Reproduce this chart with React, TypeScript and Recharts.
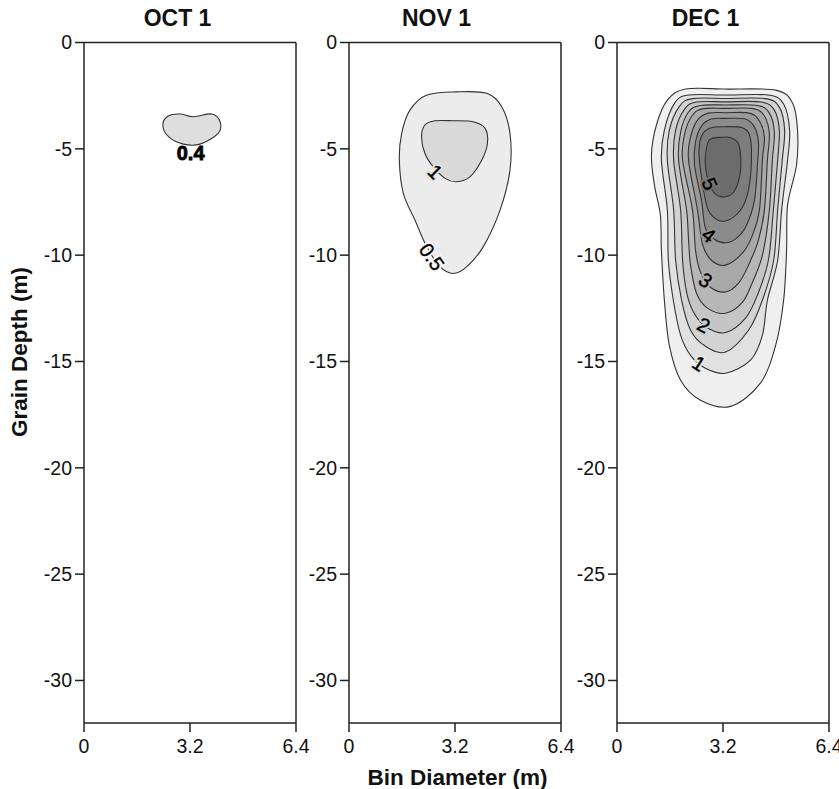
import React from 'react'
import { ScatterChart, Scatter, XAxis, YAxis } from 'recharts'

const FONT = 'Arial, "Liberation Sans", Helvetica, sans-serif'
const INK = '#222'

// axis ticks
const xTicks = [0, 3.2, 6.4]
const yTicks = [0, -5, -10, -15, -20, -25, -30]
const xDomain = [0, 6.4]
const yDomain = [-32, 0]

const panelTitles = ['OCT 1', 'NOV 1', 'DEC 1']

// OCT 1 — single 0.4 contour
const oct04 = [
  { x: 2.9, y: -3.36 }, { x: 3.3, y: -3.49 }, { x: 3.86, y: -3.36 }, { x: 4.11, y: -3.73 },
  { x: 4.05, y: -4.27 }, { x: 3.5, y: -4.78 }, { x: 3.0, y: -4.78 }, { x: 2.55, y: -4.43 },
  { x: 2.38, y: -3.88 }, { x: 2.54, y: -3.46 },
]
const octLabels = [{ x: 3.22, y: -5.2, text: '0.4', angle: 0 }]

// NOV 1 — 0.5 and 1 contours
const nov05 = [
  { x: 3.25, y: -2.32 }, { x: 4.16, y: -2.39 }, { x: 4.61, y: -3.02 }, { x: 4.86, y: -4.27 },
  { x: 4.86, y: -6.0 }, { x: 4.56, y: -7.88 }, { x: 4.05, y: -9.61 }, { x: 3.55, y: -10.55 },
  { x: 3.15, y: -10.86 }, { x: 2.75, y: -10.55 }, { x: 2.35, y: -9.61 }, { x: 1.99, y: -8.35 },
  { x: 1.64, y: -7.1 }, { x: 1.52, y: -5.53 }, { x: 1.59, y: -4.27 }, { x: 1.84, y: -3.18 },
  { x: 2.35, y: -2.47 },
]
const nov10 = [
  { x: 3.15, y: -3.68 }, { x: 3.75, y: -3.73 }, { x: 4.11, y: -4.04 }, { x: 4.18, y: -4.74 },
  { x: 4.01, y: -5.53 }, { x: 3.65, y: -6.32 }, { x: 3.25, y: -6.55 }, { x: 2.9, y: -6.39 },
  { x: 2.54, y: -5.84 }, { x: 2.29, y: -5.21 }, { x: 2.19, y: -4.43 }, { x: 2.29, y: -3.88 },
  { x: 2.6, y: -3.68 },
]
const novLabels = [
  { x: 2.6, y: -6.08, text: '1', angle: 45 },
  { x: 2.5, y: -10.08, text: '0.5', angle: 55 },
]

// DEC 1 — contours 0.5 .. 5 step 0.5
const dec05 = [
  { x: 3.28, y: -2.19 }, { x: 4.79, y: -2.24 }, { x: 5.3, y: -2.85 }, { x: 5.45, y: -4.12 },
  { x: 5.42, y: -5.76 }, { x: 5.15, y: -7.65 }, { x: 5.12, y: -9.76 }, { x: 5.03, y: -12.12 },
  { x: 4.79, y: -14.24 }, { x: 4.33, y: -16.02 }, { x: 3.43, y: -17.11 }, { x: 2.52, y: -16.82 },
  { x: 1.92, y: -15.88 }, { x: 1.58, y: -14.24 }, { x: 1.43, y: -12.12 }, { x: 1.34, y: -9.76 },
  { x: 1.31, y: -8.12 }, { x: 1.13, y: -6.71 }, { x: 1.04, y: -5.29 }, { x: 1.19, y: -3.88 },
  { x: 1.52, y: -2.71 }, { x: 2.07, y: -2.19 },
]
const dec10 = [
  { x: 3.28, y: -2.47 }, { x: 4.57, y: -2.47 }, { x: 5.03, y: -2.89 }, { x: 5.21, y: -4.12 },
  { x: 5.15, y: -5.53 }, { x: 4.97, y: -7.88 }, { x: 4.85, y: -10.24 }, { x: 4.54, y: -12.12 },
  { x: 4.39, y: -13.76 }, { x: 4.03, y: -14.94 }, { x: 3.28, y: -15.55 }, { x: 2.67, y: -15.32 },
  { x: 2.22, y: -14.71 }, { x: 1.92, y: -13.76 }, { x: 1.7, y: -12.12 }, { x: 1.55, y: -10.24 },
  { x: 1.52, y: -7.88 }, { x: 1.34, y: -5.53 }, { x: 1.43, y: -4.12 }, { x: 1.74, y: -2.85 },
  { x: 2.16, y: -2.47 },
]
const dec15 = [
  { x: 3.28, y: -2.63 }, { x: 4.48, y: -2.64 }, { x: 4.9, y: -3.04 }, { x: 5.06, y: -4.12 },
  { x: 4.99, y: -5.53 }, { x: 4.85, y: -7.88 }, { x: 4.73, y: -10.24 }, { x: 4.39, y: -12.12 },
  { x: 3.97, y: -13.53 }, { x: 3.28, y: -14.55 }, { x: 2.67, y: -14.28 }, { x: 2.22, y: -13.53 },
  { x: 1.95, y: -12.12 }, { x: 1.77, y: -10.24 }, { x: 1.71, y: -7.88 }, { x: 1.52, y: -5.53 },
  { x: 1.58, y: -4.12 }, { x: 1.89, y: -2.99 }, { x: 2.28, y: -2.64 },
]
const dec20 = [
  { x: 3.28, y: -2.79 }, { x: 4.36, y: -2.8 }, { x: 4.75, y: -3.18 }, { x: 4.9, y: -4.12 },
  { x: 4.85, y: -5.53 }, { x: 4.72, y: -7.88 }, { x: 4.57, y: -10.24 }, { x: 4.24, y: -11.88 },
  { x: 3.88, y: -12.96 }, { x: 3.28, y: -13.64 }, { x: 2.7, y: -13.39 }, { x: 2.31, y: -12.68 },
  { x: 2.1, y: -11.74 }, { x: 1.98, y: -10.24 }, { x: 1.92, y: -7.88 }, { x: 1.71, y: -5.53 },
  { x: 1.77, y: -4.12 }, { x: 2.04, y: -3.13 }, { x: 2.4, y: -2.8 },
]
const dec25 = [
  { x: 3.28, y: -2.94 }, { x: 4.24, y: -2.96 }, { x: 4.6, y: -3.32 }, { x: 4.75, y: -4.21 },
  { x: 4.69, y: -5.53 }, { x: 4.6, y: -7.88 }, { x: 4.39, y: -10.0 }, { x: 4.09, y: -11.27 },
  { x: 3.79, y: -12.21 }, { x: 3.28, y: -12.73 }, { x: 2.73, y: -12.49 }, { x: 2.4, y: -11.79 },
  { x: 2.22, y: -10.47 }, { x: 2.16, y: -9.29 }, { x: 2.1, y: -7.88 }, { x: 1.86, y: -5.53 },
  { x: 1.92, y: -4.21 }, { x: 2.16, y: -3.27 }, { x: 2.52, y: -2.96 },
]
const dec30 = [
  { x: 3.28, y: -3.1 }, { x: 4.12, y: -3.11 }, { x: 4.45, y: -3.46 }, { x: 4.6, y: -4.31 },
  { x: 4.54, y: -5.53 }, { x: 4.45, y: -7.88 }, { x: 4.27, y: -9.29 }, { x: 3.97, y: -10.47 },
  { x: 3.67, y: -11.32 }, { x: 3.28, y: -11.73 }, { x: 2.82, y: -11.51 }, { x: 2.52, y: -10.8 },
  { x: 2.37, y: -9.76 }, { x: 2.28, y: -7.88 }, { x: 1.98, y: -5.53 }, { x: 2.04, y: -4.31 },
  { x: 2.28, y: -3.41 }, { x: 2.61, y: -3.11 },
]
const dec35 = [
  { x: 3.28, y: -3.3 }, { x: 4.0, y: -3.32 }, { x: 4.3, y: -3.69 }, { x: 4.45, y: -4.45 },
  { x: 4.39, y: -5.53 }, { x: 4.3, y: -7.88 }, { x: 4.09, y: -9.06 }, { x: 3.81, y: -9.86 },
  { x: 3.28, y: -10.47 }, { x: 2.85, y: -10.24 }, { x: 2.58, y: -9.48 }, { x: 2.43, y: -7.88 },
  { x: 2.16, y: -5.53 }, { x: 2.22, y: -4.45 }, { x: 2.43, y: -3.65 }, { x: 2.76, y: -3.32 },
]
const dec40 = [
  { x: 3.28, y: -3.57 }, { x: 3.88, y: -3.6 }, { x: 4.15, y: -3.98 }, { x: 4.27, y: -4.68 },
  { x: 4.24, y: -5.76 }, { x: 4.15, y: -7.41 }, { x: 3.91, y: -8.59 }, { x: 3.61, y: -9.2 },
  { x: 3.28, y: -9.42 }, { x: 2.94, y: -9.25 }, { x: 2.67, y: -8.73 }, { x: 2.55, y: -7.41 },
  { x: 2.34, y: -5.76 }, { x: 2.37, y: -4.68 }, { x: 2.55, y: -3.93 }, { x: 2.85, y: -3.6 },
]
const dec45 = [
  { x: 3.28, y: -3.96 }, { x: 3.76, y: -4.0 }, { x: 4.0, y: -4.35 }, { x: 4.06, y: -5.39 },
  { x: 3.97, y: -6.94 }, { x: 3.73, y: -7.88 }, { x: 3.28, y: -8.39 }, { x: 2.88, y: -8.16 },
  { x: 2.67, y: -7.41 }, { x: 2.48, y: -5.39 }, { x: 2.55, y: -4.4 }, { x: 2.82, y: -4.02 },
]
const dec50 = [
  { x: 3.12, y: -4.46 }, { x: 3.43, y: -4.48 }, { x: 3.68, y: -4.82 }, { x: 3.73, y: -6.0 },
  { x: 3.53, y: -7.02 }, { x: 3.18, y: -7.26 }, { x: 2.87, y: -6.94 }, { x: 2.67, y: -5.84 },
  { x: 2.72, y: -4.82 }, { x: 2.85, y: -4.52 },
]
const decLabels = [
  { x: 2.8, y: -6.65, text: '5', angle: 65 },
  { x: 2.77, y: -9.06, text: '4', angle: 38 },
  { x: 2.67, y: -11.18, text: '3', angle: 35 },
  { x: 2.62, y: -13.29, text: '2', angle: 28 },
  { x: 2.47, y: -15.1, text: '1', angle: 32 },
]

const octContours = [oct04]
const novContours = [nov05, nov10]
const decContours = [dec05, dec10, dec15, dec20, dec25, dec30, dec35, dec40, dec45, dec50]

const octFills = ['#dedede']
const novFills = ['#ececec', '#d9d9d9']
const decFills = [
  '#efefef', '#e1e1e1', '#d3d3d3', '#c5c5c5', '#b7b7b7',
  '#a8a8a8', '#9a9a9a', '#8b8b8b', '#7d7d7d', '#6c6c6c',
]
const octHalo = ['none']
const novHalo = ['#e2e2e2', '#f6f6f6']
const decHalo = ['#747474', '#939393', '#b0b0b0', '#cccccc', '#e8e8e8']

// closed Catmull-Rom path through pixel points from the scatter
function closedPath(pts: { x: number; y: number }[]) {
  const n = pts.length
  let d = `M${pts[0].x},${pts[0].y}`
  for (let i = 0; i < n; i++) {
    const p0 = pts[(i - 1 + n) % n]
    const p1 = pts[i]
    const p2 = pts[(i + 1) % n]
    const p3 = pts[(i + 2) % n]
    const c1x = p1.x + (p2.x - p0.x) / 6
    const c1y = p1.y + (p2.y - p0.y) / 6
    const c2x = p2.x - (p3.x - p1.x) / 6
    const c2y = p2.y - (p3.y - p1.y) / 6
    d += ` C${c1x},${c1y} ${c2x},${c2y} ${p2.x},${p2.y}`
  }
  return d + 'Z'
}

const contourLine = (fill: string) => (props: any) => (
  <path d={closedPath(props.points)} fill={fill} stroke="#333" strokeWidth={1.1} />
)

const noDot = () => <g />

const labelShape = (halos: string[], bold: boolean) => (p: any) => {
  const d = p.payload
  const i = p.index ?? 0
  const halo = halos[i] ?? 'none'
  return (
    <g>
      {halo !== 'none' && (
        <text
          x={p.cx} y={p.cy}
          transform={`rotate(${d.angle} ${p.cx} ${p.cy})`}
          textAnchor="middle" dominantBaseline="central"
          fontSize={20} fontFamily={FONT}
          fill={halo} stroke={halo} strokeWidth={4}
        >
          {d.text}
        </text>
      )}
      <text
        x={p.cx} y={p.cy}
        transform={`rotate(${d.angle} ${p.cx} ${p.cy})`}
        textAnchor="middle" dominantBaseline="central"
        fontSize={20} fontFamily={FONT}
        fontWeight={bold ? 'bold' : 'normal'}
        fill="#000"
        stroke="#000"
        strokeWidth={bold ? 0.8 : 0.4}
      >
        {d.text}
      </text>
    </g>
  )
}

const tickStyle = { fontSize: 19.5, fill: '#111', fontFamily: FONT }

interface PanelProps {
  plotLeft: number
  contours: { x: number; y: number }[][]
  fills: string[]
  labels: { x: number; y: number; text: string; angle: number }[]
  halos: string[]
  boldLabels?: boolean
}

function Panel({ plotLeft, contours, fills, labels, halos, boldLabels = false }: PanelProps) {
  return (
    <div style={{ position: 'absolute', left: plotLeft - 60, top: 0 }}>
      <ScatterChart width={292} height={763} margin={{ top: 22.5, right: 0, bottom: 0, left: 0 }}>
        <XAxis
          xAxisId="b" type="number" dataKey="x" orientation="bottom" domain={xDomain} ticks={xTicks}
          allowDataOverflow interval={0} height={40} tickSize={9} tickMargin={7}
          stroke={INK} strokeWidth={1.5} tick={tickStyle}
        />
        <XAxis
          xAxisId="t" type="number" dataKey="x" orientation="top" domain={xDomain} ticks={xTicks}
          allowDataOverflow interval={0} height={20} tickSize={9}
          stroke={INK} strokeWidth={1.5} tick={false}
        />
        <YAxis
          yAxisId="l" type="number" dataKey="y" orientation="left" domain={yDomain} ticks={yTicks}
          allowDataOverflow interval={0} width={60} tickSize={9} tickMargin={3}
          stroke={INK} strokeWidth={1.5} tick={tickStyle}
        />
        <YAxis
          yAxisId="r" type="number" dataKey="y" orientation="right" domain={yDomain} ticks={yTicks}
          allowDataOverflow interval={0} width={20} tickSize={9}
          stroke={INK} strokeWidth={1.5} tick={false}
        />
        {contours.map((c, i) => (
          <Scatter
            key={i}
            xAxisId="b"
            yAxisId="l"
            data={c}
            line={contourLine(fills[i])}
            shape={noDot}
            isAnimationActive={false}
          />
        ))}
        <Scatter
          xAxisId="b"
          yAxisId="l"
          data={labels}
          shape={labelShape(halos, boldLabels)}
          isAnimationActive={false}
        />
      </ScatterChart>
    </div>
  )
}

export default function App() {
  return (
    <div
      style={{
        position: 'absolute', left: 0, top: 0, width: 839, height: 789,
        overflow: 'hidden', background: '#fff',
      }}
    >
      <Panel plotLeft={84} contours={octContours} fills={octFills} labels={octLabels} halos={octHalo} boldLabels />
      <Panel plotLeft={349} contours={novContours} fills={novFills} labels={novLabels} halos={novHalo} />
      <Panel plotLeft={616.5} contours={decContours} fills={decFills} labels={decLabels} halos={decHalo} />
      <svg
        width={839}
        height={789}
        style={{ position: 'absolute', left: 0, top: 0, pointerEvents: 'none' }}
      >
        {[177.5, 436.5, 705.5].map((cx, i) => (
          <text key={i} x={cx} y={26} textAnchor="middle" fontFamily={FONT} fontWeight="bold" fontSize={23} fill="#111">
            {panelTitles[i]}
          </text>
        ))}
        <text x={457.5} y={785} textAnchor="middle" fontFamily={FONT} fontWeight="bold" fontSize={22.5} fill="#111">
          Bin Diameter (m)
        </text>
        <text
          x={26.5} y={352} textAnchor="middle" fontFamily={FONT} fontWeight="bold" fontSize={22.5} fill="#111"
          transform="rotate(-90 26.5 352)"
        >
          Grain Depth (m)
        </text>
      </svg>
    </div>
  )
}
